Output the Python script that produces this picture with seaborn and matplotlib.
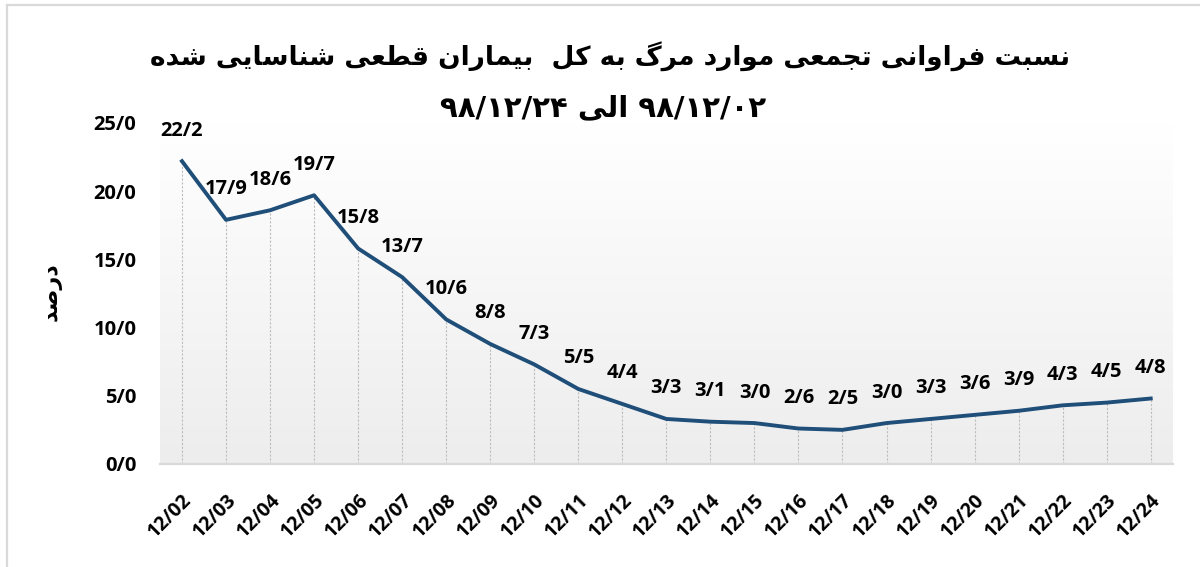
import numpy as np
import pandas as pd
import matplotlib
matplotlib.use('Agg')
import matplotlib.pyplot as plt
import seaborn as sns
from matplotlib.colors import LinearSegmentedColormap
from matplotlib.lines import Line2D

# chart data
dates = ['12/02', '12/03', '12/04', '12/05', '12/06', '12/07', '12/08', '12/09',
         '12/10', '12/11', '12/12', '12/13', '12/14', '12/15', '12/16', '12/17',
         '12/18', '12/19', '12/20', '12/21', '12/22', '12/23', '12/24']
death_pct = [22.2, 17.9, 18.6, 19.7, 15.8, 13.7, 10.6, 8.8, 7.3, 5.5, 4.4, 3.3,
             3.1, 3.0, 2.6, 2.5, 3.0, 3.3, 3.6, 3.9, 4.3, 4.5, 4.8]
y_ticks = [0, 5, 10, 15, 20, 25]

title_line1 = 'نسبت فراوانی تجمعی موارد مرگ به کل  بیماران قطعی شناسایی شده'
title_line2 = '۹۸/۱۲/۰۲ الی ۹۸/۱۲/۲۴'
y_label = 'درصد'

# matplotlib has no arabic shaping, so pick presentation forms by hand
# (isolated, final, initial, medial)
FORMS = {
    'ا': ('\uFE8D', '\uFE8E'),
    'د': ('\uFEA9', '\uFEAA'),
    'ر': ('\uFEAD', '\uFEAE'),
    'و': ('\uFEED', '\uFEEE'),
    'ب': ('\uFE8F', '\uFE90', '\uFE91', '\uFE92'),
    'ت': ('\uFE95', '\uFE96', '\uFE97', '\uFE98'),
    'ج': ('\uFE9D', '\uFE9E', '\uFE9F', '\uFEA0'),
    'س': ('\uFEB1', '\uFEB2', '\uFEB3', '\uFEB4'),
    'ش': ('\uFEB5', '\uFEB6', '\uFEB7', '\uFEB8'),
    'ص': ('\uFEB9', '\uFEBA', '\uFEBB', '\uFEBC'),
    'ط': ('\uFEC1', '\uFEC2', '\uFEC3', '\uFEC4'),
    'ع': ('\uFEC9', '\uFECA', '\uFECB', '\uFECC'),
    'ف': ('\uFED1', '\uFED2', '\uFED3', '\uFED4'),
    'ق': ('\uFED5', '\uFED6', '\uFED7', '\uFED8'),
    'ل': ('\uFEDD', '\uFEDE', '\uFEDF', '\uFEE0'),
    'م': ('\uFEE1', '\uFEE2', '\uFEE3', '\uFEE4'),
    'ن': ('\uFEE5', '\uFEE6', '\uFEE7', '\uFEE8'),
    'ه': ('\uFEE9', '\uFEEA', '\uFEEB', '\uFEEC'),
    '\u06A9': ('\uFB8E', '\uFB8F', '\uFB90', '\uFB91'),
    'گ': ('\uFB92', '\uFB93', '\uFB94', '\uFB95'),
    '\u06CC': ('\uFBFC', '\uFBFD', '\uFBFE', '\uFBFF'),
}


def shape_word(word):
    word = word.replace('\u064A', '\u06CC').replace('\u0643', '\u06A9')
    out = []
    for i, ch in enumerate(word):
        if ch not in FORMS:
            out.append(ch)
            continue
        prev = word[i - 1] if i > 0 else None
        nxt = word[i + 1] if i < len(word) - 1 else None
        j_prev = prev in FORMS and len(FORMS[prev]) == 4
        j_next = nxt in FORMS and len(FORMS[ch]) == 4
        f = FORMS[ch]
        if j_prev and j_next:
            out.append(f[3])
        elif j_prev:
            out.append(f[1])
        elif j_next:
            out.append(f[2])
        else:
            out.append(f[0])
    return ''.join(reversed(out))


def rtl(text):
    words = text.split(' ')[::-1]
    res = []
    for w in words:
        if any(c in FORMS or c in '\u064A\u0643' for c in w):
            res.append(shape_word(w))
        else:
            res.append(w)
    return ' '.join(res)


def fa_num(v):
    return f'{v:.1f}'.replace('.', '/')


df = pd.DataFrame({'idx': np.arange(len(dates)), 'pct': death_pct})

fig = plt.figure(figsize=(12, 5.67), dpi=100)
ax = fig.add_axes([0.1333, 0.1817, 0.844, 0.6014])

lat = ['Open Sans', 'DejaVu Sans']
ar = ['DejaVu Sans']

# plot area gradient
grad = LinearSegmentedColormap.from_list('g', ['#ffffff', '#ededed'])
ax.imshow(np.linspace(0, 1, 256).reshape(-1, 1), extent=(-0.5, 22.5, 0, 25),
          aspect='auto', cmap=grad, origin='upper', zorder=0)

# drop lines
ax.vlines(df['idx'], 0, df['pct'], colors='#bdbdbd', linestyles=(0, (2, 1.5)),
          linewidth=0.8, zorder=1)

sns.lineplot(data=df, x='idx', y='pct', ax=ax, color='#1f4e79', linewidth=2.8,
             zorder=3)

for i, v in zip(df['idx'], df['pct']):
    ax.annotate(fa_num(v), (i, v), xytext=(0, 22), textcoords='offset points',
                ha='center', va='center', fontsize=14.5, fontweight='bold',
                family=lat, color='black')

ax.set_xlim(-0.5, 22.5)
ax.set_ylim(0, 25)
ax.set_yticks(y_ticks)
ax.set_yticklabels([fa_num(t) for t in y_ticks], fontsize=14.5,
                   fontweight='bold', family=lat)
ax.set_xticks(df['idx'])
ax.set_xticklabels(dates, rotation=45, ha='right', rotation_mode='anchor',
                   fontsize=14, fontweight='bold', family=lat)
ax.tick_params(axis='both', length=0)
ax.tick_params(axis='y', pad=17)
ax.tick_params(axis='x', pad=19)
ax.set_xlabel('')
ax.set_ylabel('')
for s in ['top', 'right', 'left']:
    ax.spines[s].set_visible(False)
ax.spines['bottom'].set_color('#d9d9d9')
ax.spines['bottom'].set_linewidth(1.6)
ax.spines['bottom'].set_zorder(2)

fig.text(52 / 1200, 1 - 292 / 567, rtl(y_label), rotation=90, ha='center',
         va='center', fontsize=16, fontweight='bold', family=ar)

fig.text(610 / 1200, 1 - 57 / 567, rtl(title_line1), ha='center', va='center',
         fontsize=19, fontweight='bold', family=ar)
fig.text(603 / 1200, 1 - 108 / 567, rtl(title_line2), ha='center', va='center',
         fontsize=21, fontweight='bold', family=ar)

# outer frame (left and top edges only are inside the picture)
fig.add_artist(Line2D([6.5 / 1200, 6.5 / 1200], [0, 1 - 5 / 567],
                      transform=fig.transFigure, color='#d9d9d9', lw=1.6))
fig.add_artist(Line2D([6.5 / 1200, 1], [1 - 5 / 567, 1 - 5 / 567],
                      transform=fig.transFigure, color='#d9d9d9', lw=1.6))

fig.savefig('out.png', dpi=100)
